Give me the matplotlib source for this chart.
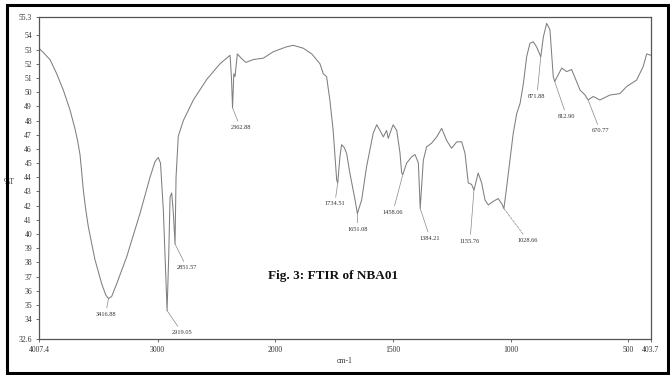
import numpy as np
import matplotlib
matplotlib.use("Agg")
import matplotlib.pyplot as plt
from matplotlib.patches import Rectangle

# ---------------- data ----------------
wavenumber = [4007.4, 3960, 3914, 3857, 3801, 3744, 3701, 3680, 3659, 3645, 3631, 3610, 3588, 3532,
              3475, 3440,
              3416.88, 3390, 3347, 3262, 3149, 3064, 3022, 2994, 2975, 2951, 2930, 2919.05,
              2905, 2894, 2880, 2866, 2851.57, 2843, 2824, 2781, 2696, 2582, 2470, 2384, 2372,
              2362.88, 2352, 2342, 2322, 2290, 2250, 2186, 2101, 2017, 1952, 1923, 1881, 1845,
              1810, 1796, 1782, 1768, 1754, 1739, 1734.51, 1725, 1718, 1707, 1697, 1683, 1661,
              1651.08, 1633, 1612, 1584, 1569, 1555, 1541, 1527, 1520, 1505, 1499, 1484, 1470,
              1463, 1458.06, 1442, 1420, 1406, 1392, 1384.21, 1371, 1357, 1336, 1314, 1293,
              1272, 1251, 1229, 1208, 1194, 1180, 1166, 1155.76, 1138, 1123, 1109, 1095, 1074,
              1053, 1038, 1028.66, 1017, 1003, 989, 974, 960, 946, 932, 918, 904, 890, 871.88,
              861, 847, 833, 819, 812.90, 783, 762, 741, 720, 705, 684, 670.77, 649, 621, 578,
              536, 507, 465, 437, 422, 403.7]
transmittance = [53.1, 52.7, 52.3, 51.3, 50.15, 48.75, 47.4, 46.6, 45.6, 44.4, 43.1, 41.7, 40.5, 38.2,
                 36.5, 35.7,
                 35.45, 35.6, 36.5, 38.4, 41.46, 44.0, 45.1, 45.4, 45.0, 41.7, 37.0, 34.6,
                 38.5, 42.6, 42.9, 41.5, 39.3, 44.0, 46.9, 48.0, 49.45, 50.9, 52.0, 52.6, 51.0,
                 48.9, 51.3, 51.1, 52.7, 52.4, 52.1, 52.3, 52.4, 52.85, 53.2, 53.3, 53.1, 52.7,
                 52.0, 51.3, 51.1, 49.45, 47.3, 43.8, 43.6, 45.5, 46.3, 46.1, 45.7, 44.3, 42.4,
                 41.45, 42.4, 44.75, 47.1, 47.7, 47.3, 46.85, 47.3, 46.75, 47.45, 47.7, 47.3, 45.7,
                 44.3, 44.2, 45.0, 45.45, 45.6, 45.0, 41.8, 45.2, 46.15, 46.4, 46.85, 47.45,
                 46.6, 46.05, 46.5, 46.5, 45.7, 43.6, 43.5, 43.1, 44.3, 43.6, 42.4, 42.05, 42.3,
                 42.5, 42.15, 41.8, 43.3, 45.2, 47.1, 48.5, 49.2, 50.6, 52.5, 53.45, 53.55, 53.2, 52.5,
                 53.9, 54.85, 54.4, 51.1, 50.75, 51.7, 51.45, 51.6, 50.75, 50.15, 49.8, 49.45, 49.7, 49.45, 49.8,
                 49.9, 50.4, 50.85, 51.8, 52.7, 52.6]

peak_labels = ["3416.88", "2919.05", "2851.57", "2362.88", "1734.51", "1651.08", "1458.06",
               "1384.21", "1155.76", "1028.66", "871.88", "812.90", "670.77"]

x_ticks = [4007.4, 3000, 2000, 1500, 1000, 500, 403.7]
x_ticklabels = ["4007.4", "3000", "2000", "1500", "1000", "500", "403.7"]
y_ticks = [55.3, 54, 53, 52, 51, 50, 49, 48, 47, 46, 45, 44, 43, 42, 41, 40, 39, 38, 37, 36, 35, 34, 32.6]
y_ticklabels = ["55.3", "54", "53", "52", "51", "50", "49", "48", "47", "46", "45", "44", "43",
                "42", "41", "40", "39", "38", "37", "36", "35", "34", "32.6"]

title_text = "Fig. 3: FTIR of NBA01"

# ---------------- figure ----------------
plt.rcParams['font.family'] = ['Liberation Serif', 'DejaVu Serif']
W, H = 670, 375
fig = plt.figure(figsize=(W / 100, H / 100), dpi=100)
ax = fig.add_axes([39 / W, 1 - 339 / H, (651 - 39) / W, (339 - 17) / H])


def fwd(x):
    x = np.asarray(x, dtype=float)
    return np.where(x >= 2000, 2000 + (x - 2000) / 2.0, x)


def inv(u):
    u = np.asarray(u, dtype=float)
    return np.where(u >= 2000, 2000 + (u - 2000) * 2.0, u)


ax.set_xscale('function', functions=(fwd, inv))
ax.plot(wavenumber, transmittance, color='#7f7f7f', lw=0.75)
ax.set_xlim(4007.4, 403.7)
ax.set_ylim(32.6, 55.3)

ax.set_xticks(x_ticks)
ax.set_xticklabels(x_ticklabels)
ax.set_yticks(y_ticks)
ax.set_yticklabels(y_ticklabels)
ax.xaxis.set_minor_locator(matplotlib.ticker.NullLocator())
ax.tick_params(axis='both', labelsize=5.5, length=2, width=0.6, colors='#555555',
               labelcolor='#333333', pad=3)
for s in ax.spines.values():
    s.set_color('#555555')
    s.set_linewidth(0.9)

ax.set_xlabel('cm-1', fontsize=5.5, color='#333333', labelpad=2)

# peak annotations (offsets in pixels)
wn_asc = np.array(wavenumber)[::-1]
t_asc = np.array(transmittance)[::-1]
offsets = [(-3, -16), (15, -22), (12, -24), (8, -20), (-3, -21), (0, -16), (-10, -38),
           (10, -30), (-4, -51), (24, -32), (-4, -40), (12, -35), (12, -31)]
for lab, (dx, dy) in zip(peak_labels, offsets):
    wn = float(lab)
    tv = float(np.interp(wn, wn_asc, t_asc))
    ls = '--' if lab == "1028.66" else '-'
    ax.annotate(lab, xy=(wn, tv), xytext=(dx, dy), textcoords='offset pixels',
                fontsize=4.6, color='#333333', ha='center', va='center',
                arrowprops=dict(arrowstyle='-', color='#888888', lw=0.5, ls=ls,
                                shrinkA=1, shrinkB=0))

fig.text(333 / W, 1 - 276 / H, title_text, fontsize=9.5, fontweight='bold',
         ha='center', va='center', color='#111111')
fig.text(4 / W, 1 - 182 / H, '%T', fontsize=5.5, ha='left', va='center', color='#333333')

# outer frame
fig.patches.append(Rectangle((6.5 / W, 1 - 373 / H), (667.5 - 6.5) / W, (373 - 5) / H,
                             transform=fig.transFigure, fill=False, edgecolor='black',
                             linewidth=2.2, zorder=10))

fig.savefig('out.png', dpi=100)
